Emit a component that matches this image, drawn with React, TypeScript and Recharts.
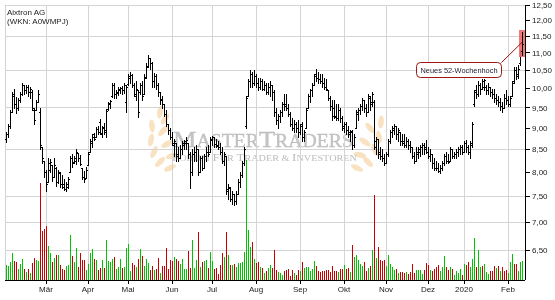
import React from 'react';
import { ComposedChart, Bar, XAxis, YAxis, CartesianGrid, ReferenceDot } from 'recharts';

const FONT = "'Liberation Sans', Arial, sans-serif";
const SERIF = "'Liberation Serif', 'DejaVu Serif', serif";

const LOW = [
  8.68,8.80,9.00,9.40,9.50,9.38,9.45,9.65,9.83,9.85,
  9.88,9.80,9.75,9.45,9.10,9.44,9.65,8.50,8.20,7.90,
  7.60,7.80,8.00,7.82,7.90,7.72,7.78,7.70,7.68,7.62,
  7.60,7.68,8.00,8.12,8.20,8.18,8.25,8.15,7.85,7.80,
  7.88,8.15,8.45,8.55,8.72,8.78,8.85,8.85,8.80,8.85,
  8.78,9.45,9.50,9.78,9.75,9.75,9.82,9.88,9.85,9.88,
  9.40,10.10,10.15,10.05,9.80,9.70,9.28,9.85,9.70,9.85,
  10.30,10.60,10.55,10.05,10.05,10.00,9.80,9.60,9.50,9.30,
  9.04,8.85,8.75,8.60,8.35,8.25,8.25,8.30,8.40,8.50,
  8.50,8.30,7.68,7.95,8.25,8.25,7.95,8.00,8.05,8.10,
  8.25,8.35,8.45,8.60,8.55,8.55,8.50,8.40,8.20,8.15,
  7.55,7.45,7.40,7.35,7.33,7.35,7.55,7.70,7.90,8.15,
  9.00,9.80,10.05,10.05,10.10,10.05,9.95,10.00,9.95,9.95,
  9.85,9.85,9.80,9.70,9.30,9.10,9.00,9.15,9.30,9.45,
  9.45,9.30,9.05,8.95,8.90,8.90,8.80,8.85,8.70,
  8.70,9.00,9.50,9.65,9.80,10.10,10.20,10.15,10.15,10.05,
  10.00,9.95,9.70,9.45,9.20,9.25,9.20,9.20,9.15,8.95,
  8.90,8.85,8.80,8.70,8.50,8.55,9.00,9.20,9.35,9.45,
  9.40,9.30,9.40,9.45,9.55,8.50,8.40,8.30,8.28,8.25,
  8.15,8.20,8.35,8.65,8.80,8.85,8.75,8.70,8.60,8.60,
  8.55,8.55,8.50,8.45,8.30,8.20,8.25,8.30,8.35,8.40,
  8.40,8.42,8.30,8.25,8.10,8.05,8.05,8.00,7.98,8.05,
  8.15,8.20,8.20,8.25,8.30,8.30,8.30,8.35,8.40,8.40,
  8.45,8.45,8.40,8.30,8.55,9.55,9.75,9.80,9.85,10.00,
  9.95,9.85,9.85,9.80,9.75,9.65,9.60,9.55,9.45,9.40,
  9.50,9.60,9.55,9.55,9.80,10.15,10.25,10.30,10.65,
  10.95,
];

const HIGH = [
  8.90,9.10,9.45,9.90,10.00,9.78,9.75,9.90,10.15,10.10,
  10.10,10.10,10.05,9.95,9.50,9.70,9.95,9.50,8.55,8.25,
  8.05,8.30,8.28,8.16,8.30,8.12,8.05,8.00,7.95,7.85,
  7.80,7.90,8.35,8.40,8.35,8.52,8.42,8.38,8.10,8.02,
  8.12,8.45,8.75,8.85,8.88,9.02,9.05,9.22,9.05,9.12,
  9.48,9.65,9.70,10.16,10.15,9.95,10.05,10.05,10.08,10.15,
  10.10,10.40,10.45,10.40,10.15,10.20,9.96,10.14,10.20,10.40,
  10.70,10.95,10.85,10.75,10.42,10.40,10.15,9.90,9.80,9.60,
  9.45,9.10,9.00,8.90,8.75,8.65,8.55,8.60,8.70,8.72,
  8.80,8.65,8.45,8.50,8.55,8.60,8.50,8.35,8.35,8.40,
  8.55,8.60,8.80,8.82,8.80,8.75,8.70,8.65,8.55,8.45,
  8.35,7.75,7.70,7.60,7.55,7.60,7.85,8.00,8.25,8.55,
  9.80,10.25,10.50,10.45,10.50,10.40,10.30,10.30,10.25,10.20,
  10.15,10.15,10.20,10.10,9.95,9.50,9.35,9.45,9.65,9.85,
  9.85,9.60,9.40,9.25,9.20,9.15,9.20,9.10,9.15,
  8.95,9.50,9.85,10.00,10.15,10.40,10.55,10.45,10.40,10.40,
  10.30,10.25,9.95,9.80,9.70,9.70,9.60,9.60,9.50,9.30,
  9.15,9.15,9.05,8.95,8.95,8.85,9.45,9.50,9.60,9.75,
  9.70,9.60,9.85,9.80,9.90,9.70,8.80,8.75,8.55,8.50,
  8.40,8.45,8.75,8.95,9.05,9.10,9.05,9.00,8.90,8.85,
  8.85,8.80,8.75,8.70,8.55,8.45,8.55,8.55,8.60,8.65,
  8.65,8.72,8.55,8.50,8.40,8.30,8.25,8.20,8.15,8.25,
  8.40,8.45,8.40,8.55,8.50,8.45,8.50,8.55,8.60,8.60,
  8.70,8.72,8.60,8.70,9.15,9.95,10.10,10.20,10.15,10.25,
  10.25,10.10,10.15,10.05,10.00,10.00,9.85,9.80,9.75,9.65,
  9.85,9.95,9.80,9.80,10.20,10.60,10.60,10.65,11.10,
  11.62,
];

const OPEN = [
  8.75,8.85,9.05,9.40,9.85,9.60,9.50,9.70,9.85,10.10,
  9.95,10.05,9.90,9.90,9.45,9.45,9.65,9.40,8.55,8.25,
  8.00,7.80,8.05,8.15,7.90,8.10,7.80,7.98,7.75,7.75,
  7.65,7.70,8.00,8.32,8.22,8.25,8.42,8.30,8.10,7.90,
  7.88,8.15,8.45,8.65,8.85,8.78,8.98,9.15,8.88,9.02,
  8.90,9.48,9.62,9.80,10.10,9.85,9.88,9.95,10.02,9.95,
  9.65,10.12,10.30,10.38,10.10,9.80,9.95,9.90,10.10,9.85,
  10.32,10.62,10.85,10.70,10.20,10.35,10.10,9.90,9.72,9.60,
  9.35,9.10,8.95,8.80,8.60,8.65,8.40,8.30,8.50,8.60,
  8.65,8.65,8.40,8.00,8.40,8.45,8.50,8.00,8.30,8.10,
  8.35,8.45,8.45,8.72,8.78,8.62,8.60,8.55,8.45,8.25,
  8.35,7.60,7.68,7.45,7.55,7.40,7.55,7.80,7.95,8.20,
  9.05,9.80,10.20,10.40,10.15,10.35,10.15,10.05,10.20,10.00,
  10.10,9.90,10.05,10.10,9.90,9.40,9.20,9.30,9.40,9.60,
  9.60,9.50,9.35,9.10,9.00,9.10,9.00,8.90,9.10,
  8.80,9.00,9.50,9.80,9.95,10.10,10.40,10.30,10.25,10.20,
  10.15,10.05,9.95,9.75,9.55,9.50,9.30,9.25,9.45,9.25,
  9.00,9.10,8.95,8.85,8.90,8.60,9.00,9.35,9.45,9.55,
  9.70,9.50,9.40,9.75,9.60,9.65,8.55,8.75,8.45,8.35,
  8.30,8.20,8.40,8.70,8.90,8.95,9.05,8.85,8.90,8.70,
  8.70,8.60,8.70,8.60,8.55,8.35,8.25,8.40,8.45,8.55,
  8.60,8.55,8.45,8.35,8.40,8.20,8.10,8.10,8.02,8.10,
  8.20,8.35,8.25,8.25,8.50,8.35,8.40,8.45,8.50,8.55,
  8.45,8.65,8.55,8.45,8.60,9.60,9.95,9.85,10.10,10.00,
  10.05,10.05,9.95,10.05,9.90,9.85,9.75,9.70,9.65,9.55,
  9.50,9.75,9.70,9.60,9.80,10.20,10.50,10.40,10.70,
  11.05,
];

const CLOSE = [
  8.85,9.05,9.40,9.80,9.60,9.50,9.70,9.85,10.10,9.95,
  10.05,9.90,10.00,9.50,9.20,9.65,9.85,8.60,8.30,8.00,
  7.75,8.20,8.22,7.90,8.15,7.80,8.00,7.75,7.70,7.65,
  7.75,7.85,8.30,8.20,8.30,8.45,8.30,8.18,7.90,7.85,
  8.05,8.40,8.70,8.80,8.75,8.98,8.90,8.87,9.00,8.95,
  9.42,9.60,9.68,10.10,9.85,9.90,10.00,10.02,9.95,10.10,
  10.05,10.35,10.38,10.10,9.85,10.00,9.40,10.10,9.80,10.30,
  10.60,10.85,10.70,10.20,10.35,10.10,9.90,9.70,9.60,9.35,
  9.10,8.95,8.80,8.65,8.70,8.35,8.30,8.50,8.65,8.70,
  8.72,8.40,8.00,8.40,8.45,8.50,8.00,8.30,8.10,8.35,
  8.45,8.40,8.75,8.78,8.62,8.58,8.55,8.45,8.25,8.40,
  7.65,7.70,7.45,7.55,7.40,7.55,7.80,7.95,8.20,8.50,
  9.75,10.20,10.40,10.15,10.35,10.15,10.05,10.20,10.00,10.10,
  9.90,10.05,10.10,9.90,9.40,9.20,9.30,9.40,9.60,9.55,
  9.50,9.35,9.10,9.00,9.10,9.00,8.90,9.05,8.80,
  8.90,9.45,9.80,9.95,10.10,10.35,10.30,10.25,10.20,10.15,
  10.05,10.00,9.75,9.55,9.30,9.28,9.25,9.45,9.25,9.05,
  9.10,8.95,8.90,8.92,8.60,8.80,9.40,9.45,9.55,9.70,
  9.50,9.40,9.80,9.65,9.85,8.70,8.75,8.40,8.35,8.30,
  8.20,8.40,8.70,8.90,9.00,9.05,8.85,8.95,8.70,8.65,
  8.60,8.70,8.60,8.55,8.35,8.25,8.45,8.50,8.55,8.60,
  8.50,8.45,8.35,8.40,8.20,8.10,8.08,8.02,8.10,8.20,
  8.35,8.25,8.22,8.50,8.35,8.40,8.45,8.50,8.55,8.45,
  8.65,8.55,8.45,8.65,9.10,9.90,9.85,10.10,10.00,10.20,
  10.22,9.95,10.05,9.90,9.85,9.75,9.70,9.65,9.55,9.50,
  9.75,9.70,9.60,9.75,10.15,10.50,10.35,10.55,11.00,
  11.25,
];

// volume in thousand shares
const VOLUME = [
  150,140,180,270,190,180,110,160,210,110,
  80,110,70,170,220,200,190,970,490,510,
  540,340,270,180,220,250,250,150,110,100,
  140,150,450,240,180,320,130,270,200,200,
  100,160,270,310,210,200,100,120,200,120,
  400,190,180,210,230,110,130,210,120,130,
  320,360,90,170,150,130,210,310,240,140,
  210,170,100,140,100,110,220,70,140,140,
  320,110,200,190,230,210,190,160,210,110,
  110,290,120,400,120,200,480,130,180,190,
  200,120,280,190,110,120,60,150,270,230,
  480,250,150,150,160,130,170,170,180,280,
  1200,500,330,380,210,170,180,130,120,70,
  90,120,150,120,300,100,80,70,50,90,
  100,110,40,100,70,50,100,90,180,
  120,130,130,90,110,190,140,90,80,90,
  90,100,100,80,140,90,90,80,110,110,
  150,110,120,80,350,230,250,200,160,140,
  180,90,120,140,300,850,220,330,200,190,
  200,140,250,160,130,100,110,70,80,80,
  70,80,60,80,160,70,100,100,100,60,
  100,170,150,100,90,110,130,150,90,130,
  240,130,100,130,110,50,90,70,110,50,
  160,150,180,130,210,420,130,300,130,140,
  160,80,60,90,90,140,120,140,90,130,
  90,100,70,180,260,160,160,90,180,
  190,
];

// G = rising day (green volume), R = falling day (red volume)
const DIRECTION =
  'GGGGRRGGGR' + 'GRGRRGGRRR' + 'RGGRGRGRRR' + 'GGGRGGRRRR' + 'GGGGRGRRGR' +
  'GGGGRGGGRG' + 'GGGRRGRGRG' + 'GGRRGRRGRR' + 'RRRRGRRGGG' + 'GRRGGGRGRG' +
  'GRGGRRRRRG' + 'RGRGRGGGGG' + 'GGGRGRRGRG' + 'RGGRRRGGGR' + 'RRRRGRRGR' +
  'GGGGGGRRRR' + 'RRRRRRRGRR' + 'GRRGRGGGGG' + 'RRGRGRGRRR' + 'RGGGGGRGRR' +
  'RGRRRRGGGG' + 'RRRGRRRRGG' + 'GRRGRGGGGR' + 'GRRGGGRGGR' + 'GGGRRRGRGR' +
  'RRGGGRRGG' + 'G';

const MONTH_TICKS = [20, 41, 61, 83, 103, 125, 147, 169, 190, 211, 229, 251];
const MONTH_LABELS = ['Mär', 'Apr', 'Mai', 'Jun', 'Jul', 'Aug', 'Sep', 'Okt', 'Nov', 'Dez', '2020', 'Feb'];
const PRICE_TICKS = [6.5, 7, 7.5, 8, 8.5, 9, 9.5, 10, 10.5, 11, 11.5, 12, 12.5];
const PRICE_DOMAIN = [6, 12.5];
const VOLUME_DOMAIN = [0, 2750];
const TITLE = 'Aixtron AG';
const SUBTITLE = '(WKN: A0WMPJ)';
const ANNOTATION_TEXT = 'Neues 52-Wochenhoch';
const ANNOTATED_INDEX = HIGH.length - 1;

const data = OPEN.map((o, i) => ({
  i,
  o,
  h: HIGH[i],
  l: LOW[i],
  c: CLOSE[i],
  range: [LOW[i], HIGH[i]],
  vol: VOLUME[i],
  up: DIRECTION[i] === 'G',
}));

const OhlcShape = (props: any) => {
  const { x, y, width, height, payload } = props;
  if (y == null || !payload || !isFinite(y) || !isFinite(height)) return null;
  const top = Math.min(y, y + height);
  const bot = Math.max(y, y + height);
  const lh = Math.log(payload.h);
  const ll = Math.log(payload.l);
  const span = lh - ll || 1;
  const toY = (v: number) => top + ((bot - top) * (lh - Math.log(v))) / span;
  const cx = Math.floor(x + width / 2) + 0.5;
  const oy = Math.round(toY(payload.o)) + 0.5;
  const cy = Math.round(toY(payload.c)) + 0.5;
  const t = Math.round(top);
  const b = Math.round(bot) + 1;
  return (
    <g>
      {payload.i === ANNOTATED_INDEX && (
        <rect x={cx - 3.5} y={t - 2} width={6} height={b - t + 3} fill="#ec6a6a" fillOpacity={0.9} />
      )}
      <line x1={cx} x2={cx} y1={t} y2={b} stroke="#000" strokeWidth={1} />
      <line x1={cx - 1.5} x2={cx - 0.5} y1={oy} y2={oy} stroke="#000" strokeWidth={1} />
      <line x1={cx + 0.5} x2={cx + 1.5} y1={cy} y2={cy} stroke="#000" strokeWidth={1} />
    </g>
  );
};

const VolShape = (props: any) => {
  const { x, y, width, height, payload } = props;
  if (y == null || !payload || !isFinite(height)) return null;
  const top = Math.round(Math.min(y, y + height));
  const bot = Math.round(Math.max(y, y + height));
  const cx = Math.floor(x + width / 2);
  return (
    <rect
      x={cx}
      y={top}
      width={1}
      height={Math.max(bot - top, 0)}
      fill={payload.up ? '#00c400' : '#c80000'}
      stroke="none"
      shapeRendering="crispEdges"
    />
  );
};

const Annotation = (props: any) => {
  const { cx, cy } = props;
  if (cx == null || cy == null) return null;
  const bx = Math.round(cx - 106) + 0.5;
  const by = Math.round(cy + 30) + 0.5;
  return (
    <g>
      <line x1={bx + 85} y1={by} x2={cx} y2={cy + 10} stroke="#9c1010" strokeWidth={1} />
      <rect x={bx} y={by} width={85} height={15} rx={4} ry={4} fill="#fff" stroke="#a01515" strokeWidth={1} />
      <text x={bx + 42.5} y={by + 10.5} textAnchor="middle" fontSize={8} fontFamily={FONT} fill="#1a1a2a" textLength={77} lengthAdjust="spacingAndGlyphs">
        {ANNOTATION_TEXT}
      </text>
    </g>
  );
};

const Leaf = ({ x, y, r }: { x: number; y: number; r: number }) => (
  <ellipse cx={x} cy={y} rx={6.5} ry={2.8} transform={`rotate(${r} ${x} ${y})`} fill="#f6d6a8" />
);

const Watermark = () => (
  <svg width={555} height={300} style={{ position: 'absolute', left: 0, top: 0 }}>
    <g opacity={0.7}>
      <Leaf x={170} y={168} r={-25} />
      <Leaf x={160} y={162} r={-45} />
      <Leaf x={172} y={156} r={-15} />
      <Leaf x={154} y={152} r={-65} />
      <Leaf x={167} y={144} r={-30} />
      <Leaf x={151} y={140} r={-80} />
      <Leaf x={163} y={131} r={-45} />
      <Leaf x={152} y={126} r={-95} />
      <Leaf x={165} y={119} r={-55} />
      <Leaf x={160} y={112} r={-80} />
      <Leaf x={357} y={168} r={25} />
      <Leaf x={368} y={162} r={45} />
      <Leaf x={360} y={155} r={15} />
      <Leaf x={375} y={150} r={65} />
      <Leaf x={365} y={142} r={35} />
      <Leaf x={379} y={137} r={80} />
      <Leaf x={370} y={128} r={50} />
      <Leaf x={381} y={122} r={95} />
    </g>
    <text x={173} y={147} fontFamily={SERIF} fill="#c4c4c4" stroke="#b8b8b8" strokeWidth={0.3} textLength={180} lengthAdjust="spacingAndGlyphs">
      <tspan fontSize={24}>M</tspan>
      <tspan fontSize={18}>ASTER</tspan>
      <tspan fontSize={24}>T</tspan>
      <tspan fontSize={18}>RADERS</tspan>
    </text>
    <text x={172} y={161} fontFamily={SERIF} fill="#bcbcbc" textLength={185} lengthAdjust="spacingAndGlyphs">
      <tspan fontSize={9.5}>F</tspan>
      <tspan fontSize={7.5}>ORUM </tspan>
      <tspan fontSize={9.5}>F</tspan>
      <tspan fontSize={7.5}>ÜR </tspan>
      <tspan fontSize={9.5}>T</tspan>
      <tspan fontSize={7.5}>RADER &amp; </tspan>
      <tspan fontSize={9.5}>I</tspan>
      <tspan fontSize={7.5}>NVESTOREN</tspan>
    </text>
  </svg>
);

export default function App() {
  return (
    <div style={{ position: 'relative', width: 555, height: 300, background: '#fff' }}>
      <style>{'body{margin:0}'}</style>
      <Watermark />
      <div style={{ position: 'relative' }}>
        <ComposedChart
          width={555}
          height={300}
          data={data}
          margin={{ top: 5, right: 0, left: 5, bottom: 0 }}
          barCategoryGap={0}
          barGap={0}
        >
          <CartesianGrid stroke="#d4d4d4" strokeWidth={1} shapeRendering="crispEdges" />
          <XAxis
            dataKey="i"
            type="category"
            ticks={MONTH_TICKS}
            interval={0}
            padding={{ left: 0, right: 2 }}
            tickFormatter={(v: number) => MONTH_LABELS[MONTH_TICKS.indexOf(v)] ?? ''}
            height={20}
            tickSize={4}
            tickMargin={2}
            axisLine={{ stroke: '#000', shapeRendering: 'crispEdges' }}
            tickLine={{ stroke: '#000', shapeRendering: 'crispEdges' }}
            tick={{ fontSize: 8, fill: '#1a1a1a', fontFamily: FONT }}
          />
          <XAxis xAxisId="vol" dataKey="i" type="category" hide padding={{ left: 0, right: 2 }} />
          <XAxis
            xAxisId="top"
            dataKey="i"
            type="category"
            orientation="top"
            height={0}
            tick={false}
            tickLine={false}
            axisLine={{ stroke: '#000', shapeRendering: 'crispEdges' }}
          />
          <YAxis
            orientation="right"
            scale="log"
            domain={PRICE_DOMAIN}
            ticks={PRICE_TICKS}
            allowDataOverflow
            width={30}
            tickSize={5}
            tickMargin={2}
            axisLine={{ stroke: '#000', shapeRendering: 'crispEdges' }}
            tickLine={{ stroke: '#000', shapeRendering: 'crispEdges' }}
            tick={{ fontSize: 8, fill: '#1a1a1a', fontFamily: FONT, textAnchor: 'start' }}
            tickFormatter={(v: number) => v.toFixed(2).replace('.', ',')}
          />
          <YAxis yAxisId="vol" hide domain={VOLUME_DOMAIN} allowDataOverflow />
          <YAxis
            yAxisId="left"
            orientation="left"
            width={0}
            domain={[0, 1]}
            tick={false}
            tickLine={false}
            axisLine={{ stroke: '#000', shapeRendering: 'crispEdges' }}
          />
          <Bar xAxisId="vol" yAxisId="vol" dataKey="vol" shape={VolShape} isAnimationActive={false} />
          <Bar dataKey="range" shape={OhlcShape} isAnimationActive={false} />
          <ReferenceDot x={ANNOTATED_INDEX} y={HIGH[ANNOTATED_INDEX]} shape={Annotation} ifOverflow="visible" />
        </ComposedChart>
      </div>
      <svg width={555} height={300} style={{ position: 'absolute', left: 0, top: 0, pointerEvents: 'none' }}>
        <text x={7} y={15} fontSize={8} fontFamily={FONT} fill="#1a1a1a">{TITLE}</text>
        <text x={7} y={24} fontSize={8} fontFamily={FONT} fill="#1a1a1a">{SUBTITLE}</text>
      </svg>
    </div>
  );
}
